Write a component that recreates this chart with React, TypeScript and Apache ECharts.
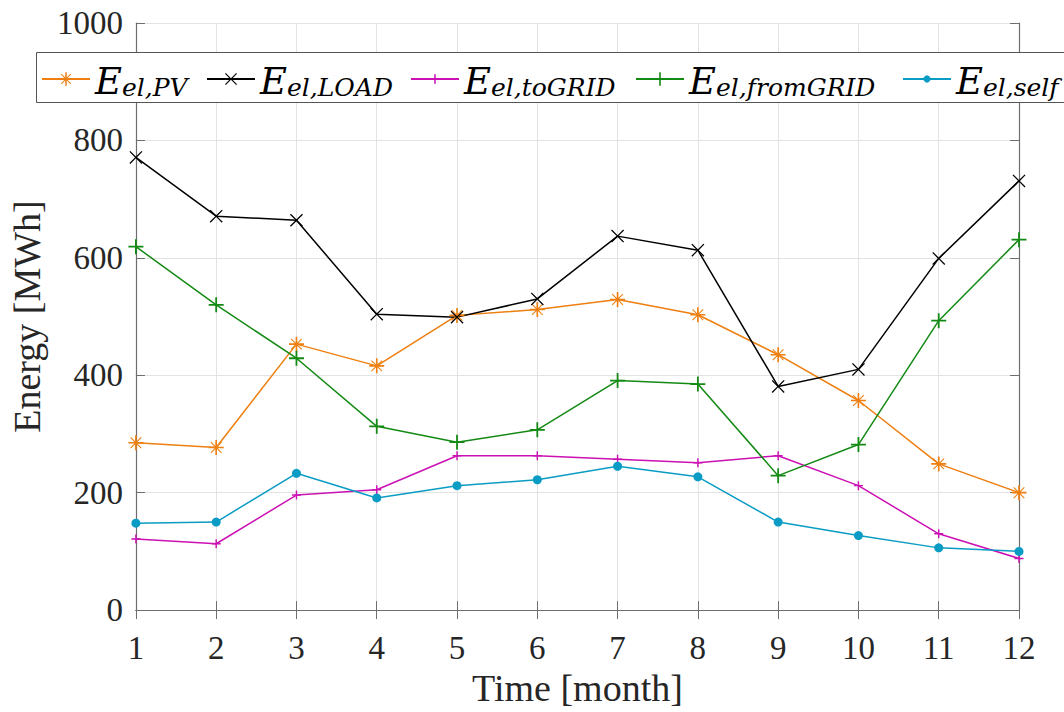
import React, { useEffect, useRef } from "react";
import * as echarts from "echarts";

const months = ["1", "2", "3", "4", "5", "6", "7", "8", "9", "10", "11", "12"];
const yTicks = [0, 200, 400, 600, 800, 1000];

const pvValues = [285, 277, 453, 416, 502, 512, 529, 503, 435, 357, 249, 200];
const loadValues = [771, 671, 664, 504, 499, 530, 637, 613, 381, 410, 599, 731];
const toGridValues = [121, 113, 196, 205, 263, 263, 257, 251, 263, 212, 130, 88];
const fromGridValues = [619, 520, 429, 313, 286, 307, 391, 385, 229, 282, 493, 631];
const selfValues = [148, 150, 233, 191, 212, 222, 245, 227, 150, 127, 106, 100];

const seriesNames = ["PV", "LOAD", "toGRID", "fromGRID", "self"];

const PLUS = "path://M4.4,0h1.2v4.4h4.4v1.2h-4.4v4.4h-1.2v-4.4h-4.4v-1.2h4.4z";
const PLUS_SMALL = "path://M4.2,0h1.6v4.2h4.2v1.6h-4.2v4.2h-1.6v-4.2h-4.2v-1.6h4.2z";
const CROSS =
  "path://M0,0.7L0.7,0L5,4.3L9.3,0L10,0.7L5.7,5L10,9.3L9.3,10L5,5.7L0.7,10L0,9.3L4.3,5Z";
const STAR =
  "path://M4.45,0h1.1v4.45h4.45v1.1h-4.45v4.45h-1.1v-4.45h-4.45v-1.1h4.45z" +
  "M1.2,1.7L1.7,1.2L5,4.5L8.3,1.2L8.8,1.7L5.5,5L8.8,8.3L8.3,8.8L5,5.5L1.7,8.8L1.2,8.3L4.5,5Z";

export default function App() {
  const ref = useRef<HTMLDivElement>(null);

  useEffect(() => {
    if (!ref.current) return;
    const chart = echarts.init(ref.current, undefined, { renderer: "svg" });
    const serif = "Liberation Serif";
    const axisColor = "#6e6e6e";
    const textColor = "#262626";

    const mkSeries = (
      name: string,
      data: number[],
      color: string,
      symbol: string,
      symbolSize: number
    ) => ({
      name,
      type: "line",
      data,
      symbol,
      symbolSize,
      showSymbol: true,
      color,
      lineStyle: { color, width: 1.5 },
      itemStyle: { color },
      emphasis: { disabled: true },
      xAxisIndex: 0,
      yAxisIndex: 0,
      z: 3,
    });

    const legendLefts = [41, 206, 410, 635, 902];
    const legendHeights = [17, 15, 12, 17, 9];

    const rich = {
      e: {
        fontFamily: "DejaVu Serif",
        fontStyle: "italic",
        fontSize: 37,
        lineHeight: 42,
        color: "#000",
        verticalAlign: "bottom",
      },
      s: {
        fontFamily: "DejaVu Serif",
        fontStyle: "italic",
        fontSize: 25,
        lineHeight: 23,
        padding: [19, 0, 0, 0],
        color: "#000",
        verticalAlign: "bottom",
      },
    };

    const legends = seriesNames.map((n, i) => ({
      data: [n],
      left: legendLefts[i],
      top: 56,
      padding: 0,
      itemWidth: 48,
      itemHeight: legendHeights[i],
      itemGap: 0,
      selectedMode: false,
      z: 20,
      formatter: (name: string) => `{e|E}{s|el,${name}}`,
      textStyle: { rich },
    }));

    chart.setOption({
      animation: false,
      backgroundColor: "#ffffff",
      grid: { left: 133, right: 45, top: 23, bottom: 97, containLabel: false },
      legend: legends,
      graphic: [
        {
          type: "rect",
          z: 10,
          shape: { x: 36.5, y: 52.5, width: 1100, height: 50 },
          style: { fill: "#ffffff", stroke: "#555555", lineWidth: 1 },
        },
      ],
      xAxis: [
        {
          type: "category",
          data: months,
          boundaryGap: false,
          position: "bottom",
          name: "Time [month]",
          nameLocation: "middle",
          nameGap: 56,
          nameTextStyle: { fontFamily: serif, fontSize: 38, color: textColor },
          axisLine: { show: true, lineStyle: { color: axisColor, width: 1.2 } },
          axisTick: { show: true, inside: true, length: 9, lineStyle: { color: axisColor } },
          axisLabel: { fontFamily: serif, fontSize: 33, color: textColor, margin: 21 },
          splitLine: { show: true, lineStyle: { color: "#e3e3e3", width: 1 } },
        },
        {
          type: "category",
          data: months,
          boundaryGap: false,
          position: "top",
          axisLine: { show: true, lineStyle: { color: axisColor, width: 1.2 } },
          axisTick: { show: true, inside: true, length: 9, lineStyle: { color: axisColor } },
          axisLabel: { show: false },
          splitLine: { show: false },
        },
      ],
      yAxis: [
        {
          type: "value",
          min: yTicks[0],
          max: yTicks[yTicks.length - 1],
          interval: 200,
          position: "left",
          name: "Energy [MWh]",
          nameLocation: "middle",
          nameGap: 83,
          nameRotate: 90,
          nameTextStyle: { fontFamily: serif, fontSize: 38, color: textColor },
          axisLine: { show: true, lineStyle: { color: axisColor, width: 1.2 } },
          axisTick: { show: true, inside: true, length: 9, lineStyle: { color: axisColor } },
          axisLabel: {
            fontFamily: serif,
            fontSize: 33,
            color: textColor,
            margin: 13,
            formatter: (v: number) => String(v),
          },
          splitLine: { show: true, lineStyle: { color: "#e3e3e3", width: 1 } },
        },
        {
          type: "value",
          min: yTicks[0],
          max: yTicks[yTicks.length - 1],
          interval: 200,
          position: "right",
          axisLine: { show: true, lineStyle: { color: axisColor, width: 1.2 } },
          axisTick: { show: true, inside: true, length: 9, lineStyle: { color: axisColor } },
          axisLabel: { show: false },
          splitLine: { show: false },
        },
      ],
      series: [
        mkSeries("PV", pvValues, "#EE7F10", STAR, 15),
        mkSeries("LOAD", loadValues, "#000000", CROSS, 13),
        mkSeries("toGRID", toGridValues, "#CC11B4", PLUS_SMALL, 9),
        mkSeries("fromGRID", fromGridValues, "#138A13", PLUS, 15),
        mkSeries("self", selfValues, "#0A9CC4", "circle", 9),
      ],
    });

    return () => chart.dispose();
  }, []);

  return (
    <div
      ref={ref}
      style={{ position: "fixed", left: 0, top: 0, width: 1064, height: 712, background: "#fff" }}
    />
  );
}
